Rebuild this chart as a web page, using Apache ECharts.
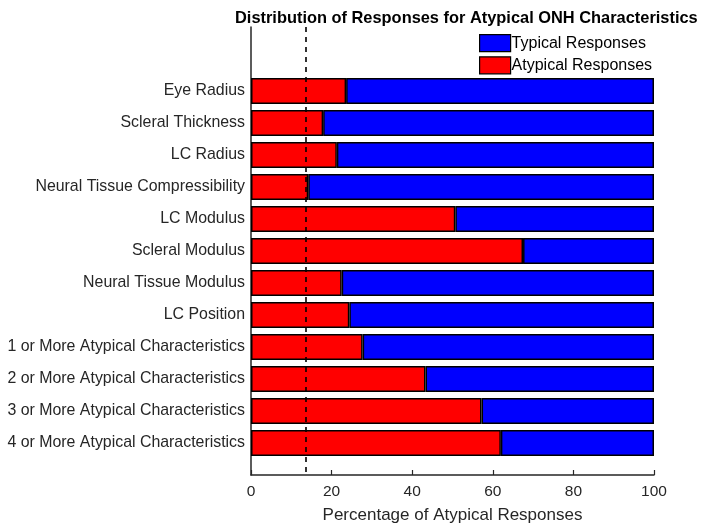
<!DOCTYPE html>
<html><head><meta charset="utf-8">
<script src="https://cdn.jsdelivr.net/npm/echarts@6/dist/echarts.min.js"></script>
<style>html,body{margin:0;padding:0;background:#fff}#c{width:704px;height:532px}</style>
</head><body><div id="c"></div>
<script>
const categories = [
  'Eye Radius','Scleral Thickness','LC Radius','Neural Tissue Compressibility',
  'LC Modulus','Scleral Modulus','Neural Tissue Modulus','LC Position',
  '1 or More Atypical Characteristics','2 or More Atypical Characteristics',
  '3 or More Atypical Characteristics','4 or More Atypical Characteristics'
];
const atypical = [23.6, 17.9, 21.3, 14.2, 50.7, 67.5, 22.5, 24.4, 27.7, 43.3, 57.2, 62.0];
const typical = atypical.map(v => +(100 - v).toFixed(1));
const referenceLine = 13.7;
const xTicks = [0, 20, 40, 60, 80, 100];

// category axis padded so items sit at positions 2..13 of a 0..14 range
const axisCats = ['', ''].concat(categories, ['']);
const pad = v => [null, null].concat(v, [null]);

const font = 'Liberation Sans, Arial, sans-serif';
const chart = echarts.init(document.getElementById('c'), null, {renderer: 'canvas'});
chart.setOption({
  animation: false,
  title: {
    text: 'Distribution of Responses for Atypical ONH Characteristics',
    left: 230, top: 5,
    textStyle: {fontFamily: font, fontWeight: 'bold', fontSize: 16.4, color: '#000'}
  },
  legend: {
    data: ['Typical Responses', 'Atypical Responses'],
    orient: 'vertical', left: 474, top: 29,
    itemWidth: 31, itemHeight: 17, itemGap: 4, icon: 'rect',
    textStyle: {fontFamily: font, fontSize: 16, color: '#000', padding: [0, 0, 0, -4]},
    itemStyle: {borderColor: '#000', borderWidth: 1.2}
  },
  grid: {left: 251, right: 50, top: 27, bottom: 57, containLabel: false},
  xAxis: {
    type: 'value', min: 0, max: 100, interval: 20,
    name: 'Percentage of Atypical Responses', nameLocation: 'middle', nameGap: 32,
    nameTextStyle: {fontFamily: font, fontSize: 17, color: '#262626'},
    axisLine: {show: true, lineStyle: {color: '#262626', width: 1.5}},
    axisTick: {show: true, inside: true, length: 5, lineStyle: {color: '#262626', width: 1.2}},
    axisLabel: {fontFamily: font, fontSize: 15.5, color: '#262626', margin: 9,
      formatter: v => xTicks.indexOf(v) >= 0 ? String(v) : ''},
    splitLine: {show: false}
  },
  yAxis: {
    type: 'category', data: axisCats, inverse: true, boundaryGap: false,
    axisLine: {show: true, lineStyle: {color: '#262626', width: 1.5}},
    axisTick: {show: false},
    axisLabel: {fontFamily: font, fontSize: 15.9, color: '#262626', margin: 6, interval: 0},
    splitLine: {show: false}
  },
  series: [
    {
      name: 'Atypical Responses', type: 'bar', stack: 'tot', barWidth: 26,
      data: pad(atypical),
      itemStyle: {color: '#ff0000', borderColor: '#000', borderWidth: 1.5},
      z: 2,
      markLine: {
        silent: true, symbol: 'none', label: {show: false},
        lineStyle: {color: '#000', type: [5, 5], width: 1.6},
        data: [{xAxis: referenceLine}]
      }
    },
    {
      name: 'Typical Responses', type: 'bar', stack: 'tot', barWidth: 26,
      data: pad(typical),
      itemStyle: {color: '#0000ff', borderColor: '#000', borderWidth: 1.5},
      z: 1
    }
  ]
});
</script></body></html>
